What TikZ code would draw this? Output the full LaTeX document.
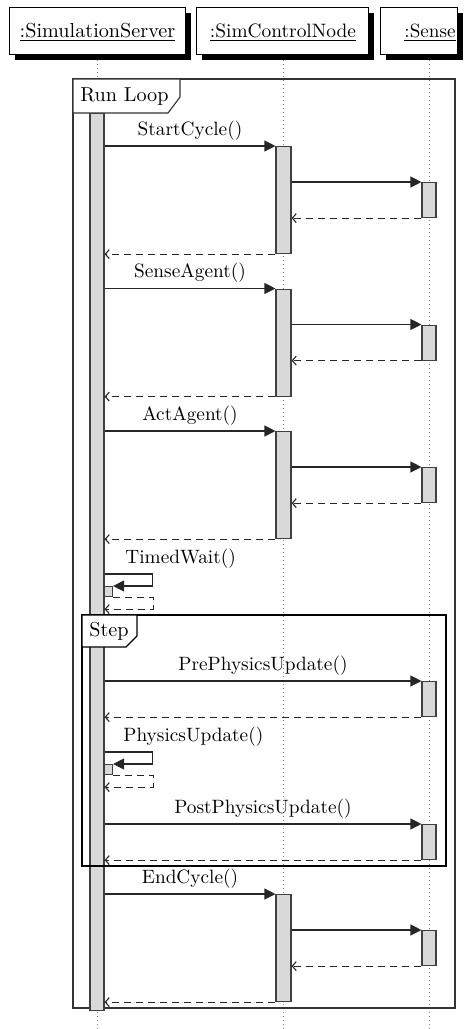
\documentclass[tikz,border=0pt]{standalone}
\usepackage{fontspec}
\usetikzlibrary{arrows.meta,calc}
\begin{document}
\begin{tikzpicture}[x=1pt,y=-1pt,
  lbl/.style={font=\fontsize{10}{12}\selectfont, inner sep=0pt, transform shape, scale=1.93},
  hlbl/.style={font=\fontsize{10}{12}\selectfont, inner sep=0pt, transform shape, scale=2.02},
  msglbl/.style={yshift=11pt, lbl, midway, anchor=base},
  objbox/.style={draw=black, fill=white, line width=1pt, inner sep=0pt},
  lifeline/.style={draw=gray, line width=0.9pt, dash pattern=on 1pt off 3pt},
  actbar/.style={draw=black!75, fill=black!15, line width=1.1pt, inner sep=0pt, anchor=north},
  call/.style={draw=black!85, line width=1.1pt, -{Triangle[length=11pt,width=11pt]}},
  ret/.style={draw=black!85, line width=1.1pt, dash pattern=on 7pt off 5pt, -{Straight Barb[length=4pt,width=9pt]}},
  frame/.style={draw=black!80, line width=1.1pt},
]
\useasboundingbox (0,0) rectangle (468,1029);

% header boxes
\node[objbox, minimum width=175pt, minimum height=46pt] (hb1) at (97.5,31) {};
\node[objbox, minimum width=171pt, minimum height=46pt] (hb2) at (282.5,31) {};
\node[objbox, minimum width=76pt, minimum height=46pt] (hb3) at (419,31) {};
\foreach \b in {hb1,hb2,hb3}{
  \fill[black] ($(\b.south west)+(5,5)$) rectangle ($(\b.north east)+(5,5)$);
  \draw[objbox] (\b.south west) rectangle (\b.north east);
}
\node[hlbl, anchor=base] (h1) at (97.5,37) {\underline{:SimulationServer}};
\node[hlbl, anchor=base, scale=0.96] (h2) at (283,37) {\underline{:SimControlNode}};
\node[lbl, anchor=base, scale=0.99] (h3) at (430,37) {\underline{:Sense}};

% lifelines
\coordinate (e1) at (97,1029);
\coordinate (e2) at (283.5,1029);
\coordinate (e3) at (429,1029);
\draw[lifeline] (e1 |- 0,60) -- (e1);
\draw[lifeline] (e2 |- 0,60) -- (e2);
\draw[lifeline] (e3 |- 0,60) -- (e3);

% Run Loop frame
\draw[frame] (73,79) rectangle (455,1008);
\draw[frame, fill=white] (73,79) -- (180,79) -- (180,97) -- (168,113) -- (73,113) -- cycle;
\node[hlbl, anchor=base west] (rl) at (80,101) {Run Loop};

% main activation bar
\node[actbar, minimum width=14pt, minimum height=897pt] (sb) at (97,113) {};

% call blocks
\foreach \y/\t/\n in {146/{StartCycle()}/a, 288.5/{SenseAgent()}/b, 431/{ActAgent()}/c, 894/{EndCycle()}/d}{
  \node[actbar, minimum width=15pt, minimum height=107pt] (sc\n) at (283.5,\y) {};
  \node[actbar, minimum width=14pt, minimum height=35pt] (se\n) at (429,\y+36) {};
  \draw[call] (sb.east |- sc\n.north) -- (sc\n.north west) node[msglbl] {\t};
  \draw[call] (sc\n.east |- se\n.north) -- (se\n.north west);
  \draw[ret] (se\n.south west) -- (sc\n.east |- se\n.south);
  \draw[ret] (sc\n.south west) -- (sb.east |- sc\n.south);
}

% TimedWait self call
\node[actbar, anchor=north west, minimum width=8pt, minimum height=10pt] (tw) at (104,586) {};
\node[lbl, anchor=base west] (twl) at (125,563) {TimedWait()};
\draw[call] (sb.east |- 0,574) -- ++(48,0) -- ++(0,12) -- (tw.north east);
\draw[ret] (tw.south east) -- ++(40,0) -- ++(0,12) coordinate (twr) -- (sb.east |- twr);

% Step frame
\draw[frame, draw=black] (82,615) rectangle (446,866);
\draw[frame, draw=black, fill=white] (82,615) -- (137,615) -- (137,636) -- (126,647) -- (82,647) -- cycle;
\node[hlbl, anchor=base west] (stl) at (89,636.5) {Step};

% PrePhysicsUpdate
\node[actbar, minimum width=14pt, minimum height=35pt] (pre) at (429,681) {};
\draw[call] (sb.east |- pre.north) -- (pre.north west) node[msglbl] {PrePhysicsUpdate()};
\draw[ret] (pre.south west) -- (sb.east |- pre.south);

% PhysicsUpdate self call
\node[actbar, anchor=north west, minimum width=8pt, minimum height=10pt] (pu) at (104,764) {};
\node[lbl, anchor=base west] (pul) at (123,741) {PhysicsUpdate()};
\draw[call] (sb.east |- 0,752) -- ++(48,0) -- ++(0,12) -- (pu.north east);
\draw[ret] (pu.south east) -- ++(40,0) -- ++(0,12) coordinate (pur) -- (sb.east |- pur);

% PostPhysicsUpdate
\node[actbar, minimum width=14pt, minimum height=35pt] (post) at (429,824) {};
\draw[call] (sb.east |- post.north) -- (post.north west) node[msglbl] {PostPhysicsUpdate()};
\draw[ret] (post.south west) -- (sb.east |- post.south);
\end{tikzpicture}
\end{document}
